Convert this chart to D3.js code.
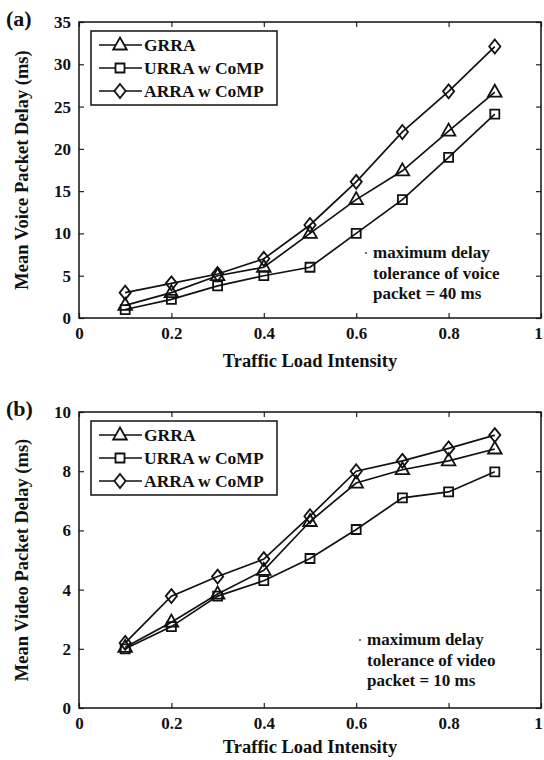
<!DOCTYPE html>
<html>
<head>
<meta charset="utf-8">
<script src="https://cdn.jsdelivr.net/npm/d3@7"></script>
<style>
body { margin: 0; background: #fff; }
text { font-family: "Liberation Serif", "Times New Roman", serif; font-weight: bold; fill: #111; }
</style>
</head>
<body>
<div id="canvas"></div>
<script>
// data
const load = [0.1, 0.2, 0.3, 0.4, 0.5, 0.6, 0.7, 0.8, 0.9];
const voiceGRRA = [1.5, 3.0, 5.0, 6.0, 10.0, 14.0, 17.4, 22.1, 26.7];
const voiceURRA = [1.0, 2.2, 3.8, 5.0, 6.0, 10.0, 14.0, 19.0, 24.1];
const voiceARRA = [3.0, 4.1, 5.2, 7.0, 11.0, 16.1, 22.0, 26.8, 32.1];
const videoGRRA = [2.05, 2.9, 3.85, 4.65, 6.3, 7.6, 8.05, 8.35, 8.75];
const videoURRA = [2.0, 2.75, 3.78, 4.3, 5.05, 6.03, 7.1, 7.3, 7.98];
const videoARRA = [2.2, 3.78, 4.44, 5.03, 6.48, 8.0, 8.35, 8.77, 9.22];
const seriesNames = ["GRRA", "URRA w CoMP", "ARRA w CoMP"];
const xTicks = [0, 0.2, 0.4, 0.6, 0.8, 1];
const voiceTicks = [0, 5, 10, 15, 20, 25, 30, 35];
const videoTicks = [0, 2, 4, 6, 8, 10];

const width = 544;
const height = 760;

const svg = d3.select("#canvas").append("svg")
    .attr("width", width)
    .attr("height", height);

// marker shapes, in the same order as the series
const shapes = [
    "M0,-7.5L6.8,4.5L-6.8,4.5Z",       // triangle
    "M-4.5,-4.5h9v9h-9Z",               // square
    "M0,-7L5.6,0L0,7L-5.6,0Z"           // diamond
];

function drawPanel(p) {
    const x = d3.scaleLinear().domain([0, 1]).range([p.left, p.right]);
    const y = d3.scaleLinear().domain([0, p.ymax]).range([p.bottom, p.top]);

    const g = svg.append("g");

    // ticks, all pointing inward
    g.append("g")
        .attr("transform", `translate(0,${p.bottom})`)
        .call(d3.axisBottom(x).tickValues(xTicks).tickSize(-5).tickPadding(9).tickFormat(d3.format("")))
        .call(a => a.select(".domain").remove())
        .call(a => a.selectAll(".tick text").filter(d => d === 1).attr("dx", -3));
    g.append("g")
        .attr("transform", `translate(0,${p.top})`)
        .call(d3.axisTop(x).tickValues(xTicks).tickSize(-5).tickFormat(""))
        .call(a => a.select(".domain").remove());
    g.append("g")
        .attr("transform", `translate(${p.left},0)`)
        .call(d3.axisLeft(y).tickValues(p.yTicks).tickSize(-5).tickPadding(8))
        .call(a => a.select(".domain").remove());
    g.append("g")
        .attr("transform", `translate(${p.right},0)`)
        .call(d3.axisRight(y).tickValues(p.yTicks).tickSize(-5).tickFormat(""))
        .call(a => a.select(".domain").remove());

    g.selectAll(".tick line").attr("stroke", "#222").attr("stroke-width", 1.2);
    g.selectAll(".tick text")
        .style("font-family", '"Liberation Serif", serif')
        .style("font-weight", "bold")
        .style("font-size", "17px")
        .attr("fill", "#111");

    g.append("rect")
        .attr("x", p.left).attr("y", p.top)
        .attr("width", p.right - p.left).attr("height", p.bottom - p.top)
        .attr("fill", "none").attr("stroke", "#111").attr("stroke-width", 1.5);

    const line = d3.line().x((d, i) => x(load[i])).y(d => y(d));

    p.series.forEach((s, k) => {
        g.append("path")
            .datum(s)
            .attr("d", line)
            .attr("fill", "none")
            .attr("stroke", "#111")
            .attr("stroke-width", 1.7);
        g.selectAll(".m" + k).data(s).enter().append("path")
            .attr("class", "m" + k)
            .attr("d", shapes[k])
            .attr("transform", (d, i) => `translate(${x(load[i])},${y(d)})`)
            .attr("fill", "none")
            .attr("stroke", "#111")
            .attr("stroke-width", 1.8);
    });

    // legend
    const lg = g.append("g");
    lg.append("rect")
        .attr("x", p.left + 12).attr("y", p.top + 9)
        .attr("width", 186).attr("height", 74)
        .attr("fill", "#fff").attr("stroke", "#111").attr("stroke-width", 1.5);
    seriesNames.forEach((name, k) => {
        const ly = p.top + 23 + k * 23;
        lg.append("line")
            .attr("x1", p.left + 20).attr("x2", p.left + 63)
            .attr("y1", ly).attr("y2", ly)
            .attr("stroke", "#111").attr("stroke-width", 1.7);
        lg.append("path")
            .attr("d", shapes[k])
            .attr("transform", `translate(${p.left + 41},${ly})`)
            .attr("fill", "#fff").attr("stroke", "#111").attr("stroke-width", 1.8);
        lg.append("text")
            .attr("x", p.left + 65).attr("y", ly + 6)
            .style("font-size", "17.5px")
            .text(name);
    });

    // annotation
    g.append("circle")
        .attr("cx", p.noteX - 7).attr("cy", p.noteY - 5)
        .attr("r", 0.9).attr("fill", "#333");
    p.note.forEach((t, i) => {
        g.append("text")
            .attr("x", p.noteX).attr("y", p.noteY + i * 20.5)
            .style("font-size", "17px")
            .text(t);
    });

    // axis titles and panel label
    g.append("text")
        .attr("x", (p.left + p.right) / 2).attr("y", p.titleY)
        .attr("text-anchor", "middle")
        .style("font-size", "18.5px")
        .text("Traffic Load Intensity");
    g.append("text")
        .attr("transform", `translate(28,${(p.top + p.bottom) / 2}) rotate(-90)`)
        .attr("text-anchor", "middle")
        .style("font-size", "18.5px")
        .text(p.ylabel);
    g.append("text")
        .attr("x", 6).attr("y", p.top + 4)
        .style("font-size", "22px")
        .text(p.tag);
}

drawPanel({
    left: 79, right: 541, top: 22, bottom: 318, ymax: 35,
    yTicks: voiceTicks,
    series: [voiceGRRA, voiceURRA, voiceARRA],
    ylabel: "Mean Voice Packet Delay (ms)",
    tag: "(a)",
    note: ["maximum delay", "tolerance of voice", "packet = 40 ms"],
    noteX: 373, noteY: 258, titleY: 367
});

drawPanel({
    left: 79, right: 541, top: 412, bottom: 708, ymax: 10,
    yTicks: videoTicks,
    series: [videoGRRA, videoURRA, videoARRA],
    ylabel: "Mean Video Packet Delay (ms)",
    tag: "(b)",
    note: ["maximum delay", "tolerance of video", "packet = 10 ms"],
    noteX: 367, noteY: 645, titleY: 753
});
</script>
</body>
</html>
